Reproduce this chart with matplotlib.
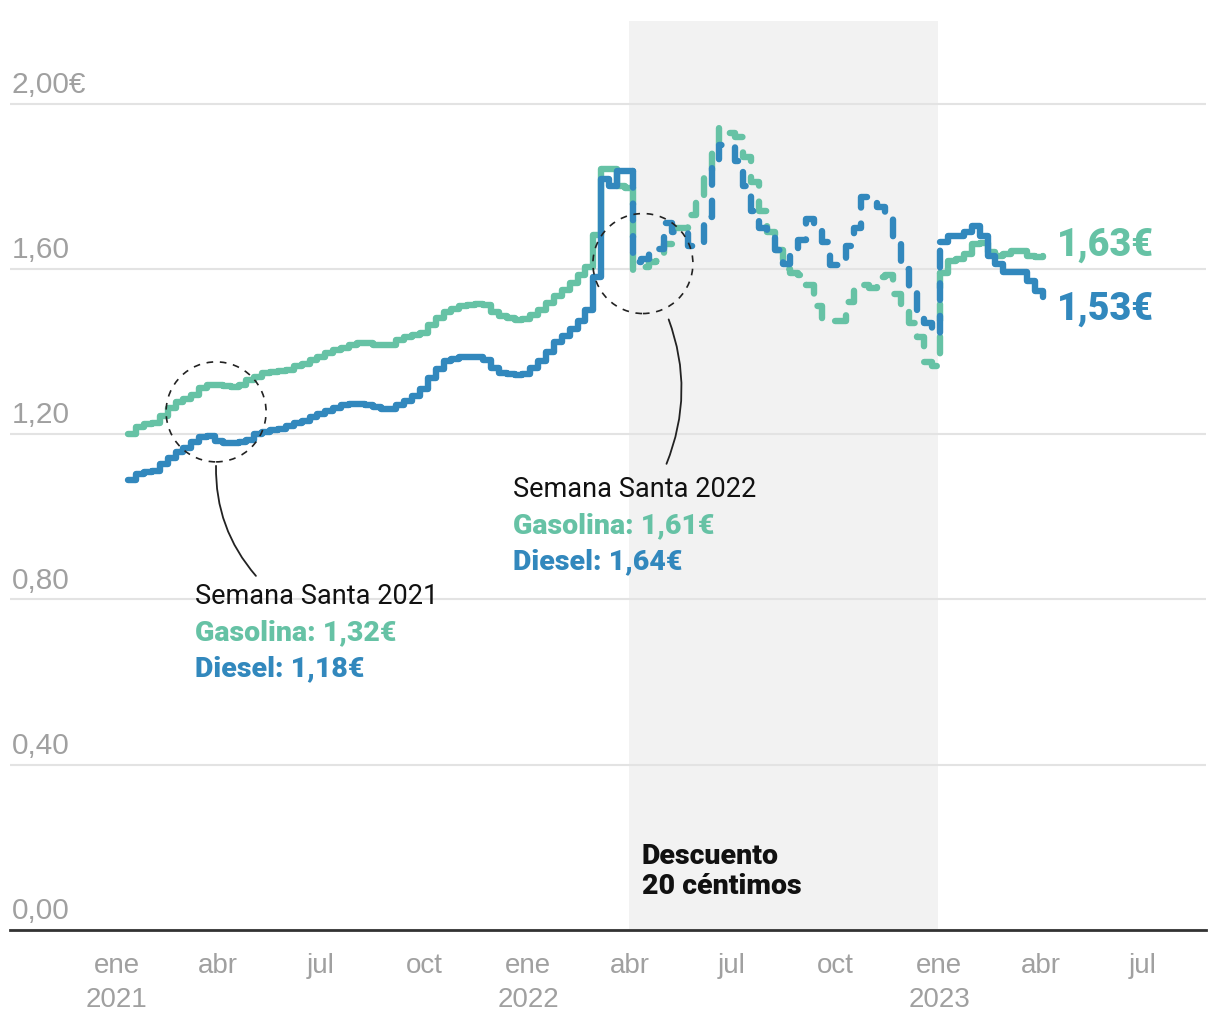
import matplotlib
matplotlib.use("Agg")
import matplotlib.pyplot as plt
import matplotlib.dates as mdates
from matplotlib.patches import Circle
from matplotlib.transforms import ScaledTranslation
import numpy as np
import pandas as pd

# Datos semanales (precio medio en €/litro)
inicio_semanas = "2021-01-11"
gasolina = [
    1.201, 1.218, 1.225, 1.227, 1.245, 1.263, 1.277, 1.286, 1.295, 1.312,
    1.320, 1.318, 1.316, 1.315, 1.320, 1.330, 1.338, 1.348, 1.351, 1.352,
    1.356, 1.364, 1.371, 1.379, 1.388, 1.396, 1.403, 1.409, 1.415, 1.420,
    1.421, 1.417, 1.415, 1.415, 1.428, 1.436, 1.440, 1.446, 1.465, 1.480,
    1.495, 1.503, 1.510, 1.513, 1.514, 1.512, 1.495, 1.485, 1.480, 1.477,
    1.479, 1.488, 1.500, 1.518, 1.535, 1.550, 1.567, 1.585, 1.605, 1.683,
    1.843, 1.843, 1.800, 1.795, 1.598, 1.605, 1.617, 1.620, 1.660, 1.700,
    1.700, 1.730, 1.770, 1.830, 1.890, 1.940, 1.930, 1.920, 1.870, 1.810,
    1.740, 1.690, 1.645, 1.600, 1.590, 1.585, 1.560, 1.510, 1.478, 1.475,
    1.475, 1.520, 1.555, 1.560, 1.555, 1.580, 1.585, 1.540, 1.500, 1.470,
    1.435, 1.375, 1.365, 1.590, 1.620, 1.625, 1.637, 1.660, 1.662, 1.640,
    1.632, 1.635, 1.644, 1.644, 1.632, 1.628, 1.632,
]
diesel = [
    1.088, 1.103, 1.109, 1.112, 1.128, 1.142, 1.157, 1.167, 1.180, 1.192,
    1.196, 1.184, 1.179, 1.179, 1.181, 1.186, 1.200, 1.206, 1.209, 1.212,
    1.219, 1.226, 1.232, 1.241, 1.248, 1.256, 1.264, 1.270, 1.272, 1.273,
    1.270, 1.265, 1.262, 1.262, 1.270, 1.280, 1.293, 1.310, 1.335, 1.358,
    1.376, 1.383, 1.386, 1.387, 1.386, 1.380, 1.360, 1.347, 1.345, 1.344,
    1.346, 1.360, 1.378, 1.400, 1.422, 1.437, 1.455, 1.475, 1.500, 1.580,
    1.818, 1.800, 1.838, 1.838, 1.617, 1.625, 1.649, 1.649, 1.710, 1.690,
    1.690, 1.656, 1.656, 1.725, 1.845, 1.900, 1.900, 1.860, 1.800, 1.740,
    1.700, 1.695, 1.645, 1.612, 1.640, 1.670, 1.720, 1.700, 1.665, 1.610,
    1.612, 1.656, 1.700, 1.775, 1.775, 1.750, 1.720, 1.660, 1.600, 1.545,
    1.500, 1.470, 1.443, 1.666, 1.680, 1.680, 1.690, 1.705, 1.680, 1.632,
    1.613, 1.593, 1.593, 1.593, 1.571, 1.547, 1.533,
]
semanas = pd.date_range(inicio_semanas, periods=len(gasolina), freq="7D")

descuento_ini = pd.Timestamp("2022-04-01")
descuento_fin = pd.Timestamp("2022-12-31")

y_ticks = [0.0, 0.4, 0.8, 1.2, 1.6, 2.0]
y_labels = ["0,00", "0,40", "0,80", "1,20", "1,60", "2,00€"]
x_ticks = ["2021-01-01", "2021-04-01", "2021-07-01", "2021-10-01",
           "2022-01-01", "2022-04-01", "2022-07-01", "2022-10-01",
           "2023-01-01", "2023-04-01", "2023-07-01"]
x_labels = ["ene\n2021", "abr", "jul", "oct", "ene\n2022", "abr", "jul", "oct",
            "ene\n2023", "abr", "jul"]

VERDE = "#66c2a5"
AZUL = "#3288bd"
GRIS = "#a0a0a0"

plt.rcParams["font.family"] = ["Roboto", "DejaVu Sans"]

fig = plt.figure(figsize=(12.2, 10.2), dpi=100)
ax = fig.add_axes([10 / 1220, 89 / 1020, 1196 / 1220, 909 / 1020])

ax.axvspan(descuento_ini, descuento_fin, color="#f2f2f2", zorder=0, lw=0)


def dibujar(valores, color, z):
    valores = list(valores)
    en_desc = (semanas >= descuento_ini) & (semanas <= descuento_fin)
    i0 = int(np.argmax(en_desc))
    i1 = len(en_desc) - int(np.argmax(en_desc[::-1]))
    estilo = dict(color=color, lw=4.6, drawstyle="steps-post", zorder=z,
                  solid_capstyle="round", dash_capstyle="round",
                  solid_joinstyle="round", dash_joinstyle="round")
    # antes del descuento
    ax.plot(semanas[:i0 + 1], valores[:i0] + [valores[i0 - 1]], **estilo)
    # durante el descuento (discontinua)
    ax.plot([semanas[i0]] + list(semanas[i0:i1 + 1]),
            [valores[i0 - 1]] + valores[i0:i1 + 1], dashes=(2.6, 2.5), **estilo)
    # después
    ax.plot(semanas[i1:], valores[i1:], **estilo)


dibujar(gasolina, VERDE, 3)
dibujar(diesel, AZUL, 4)

ax.set_ylim(0, 2.2)
ax.set_xlim(pd.Timestamp("2020-09-28"), pd.Timestamp("2023-08-26"))

# rejilla y etiquetas del eje y
ax.set_yticks(y_ticks)
ax.yaxis.grid(True, color="#e3e3e3", lw=1.5)
ax.set_axisbelow(True)
ax.tick_params(axis="y", length=0, labelleft=False)
for v, t in zip(y_ticks, y_labels):
    ax.annotate(t, xy=(0, v), xycoords=ax.get_yaxis_transform(),
                xytext=(1, 8.5), textcoords="offset points",
                ha="left", va="baseline", fontsize=21.5, color=GRIS,
                family=["Liberation Sans", "DejaVu Sans"])

ax.set_xticks(pd.to_datetime(x_ticks))
ax.set_xticklabels(x_labels, fontsize=20, color=GRIS, linespacing=1.4,
                   family=["Liberation Sans", "DejaVu Sans"])
ax.tick_params(axis="x", length=0, pad=16)

for s in ["left", "right", "top"]:
    ax.spines[s].set_visible(False)
ax.spines["bottom"].set_color("#333333")
ax.spines["bottom"].set_linewidth(2)


# círculos de Semana Santa
def circulo(fecha, valor):
    trans = fig.dpi_scale_trans + ScaledTranslation(
        mdates.date2num(pd.Timestamp(fecha)), valor, ax.transData)
    ax.add_artist(Circle((0, 0), 0.5, transform=trans, fill=False,
                         ls=(0, (4, 4)), lw=1.2, color="#222222", zorder=5))


circulo("2021-03-30", 1.254)
circulo("2022-04-13", 1.613)

ax.annotate("", xy=(pd.Timestamp("2021-05-06"), 0.852),
            xytext=(pd.Timestamp("2021-03-30"), 1.130),
            arrowprops=dict(arrowstyle="-", color="#222222", lw=1.3,
                            connectionstyle="arc3,rad=0.2"))
ax.annotate("", xy=(pd.Timestamp("2022-05-03"), 1.122),
            xytext=(pd.Timestamp("2022-05-05"), 1.484),
            arrowprops=dict(arrowstyle="-", color="#222222", lw=1.3,
                            connectionstyle="arc3,rad=-0.2"))


def bloque(fecha, valor, titulo, gas, die):
    pos = (pd.Timestamp(fecha), valor)
    ax.annotate(titulo, xy=pos, ha="left", va="center", fontsize=19.5,
                color="#111111")
    ax.annotate(gas, xy=pos, xytext=(0, -26), textcoords="offset points",
                ha="left", va="center", fontsize=20.5, color=VERDE,
                fontweight="black")
    ax.annotate(die, xy=pos, xytext=(0, -51.5), textcoords="offset points",
                ha="left", va="center", fontsize=20.5, color=AZUL,
                fontweight="black")


bloque("2021-03-11", 0.809, "Semana Santa 2021", "Gasolina: 1,32€", "Diesel: 1,18€")
bloque("2021-12-19", 1.068, "Semana Santa 2022", "Gasolina: 1,61€", "Diesel: 1,64€")

ax.text(pd.Timestamp("2022-04-12"), 0.143, "Descuento\n20 céntimos",
        ha="left", va="center", fontsize=20.5, fontweight="black",
        color="#111111", linespacing=1.15)

# últimos valores
ax.annotate(f"{gasolina[-1]:.2f}€".replace(".", ","), xy=(semanas[-1], gasolina[-1]),
            xytext=(10, 8.6), textcoords="offset points", ha="left",
            va="center", fontsize=27, fontweight="black", color=VERDE)
ax.annotate(f"{diesel[-1]:.2f}€".replace(".", ","), xy=(semanas[-1], diesel[-1]),
            xytext=(10, -8.6), textcoords="offset points", ha="left",
            va="center", fontsize=27, fontweight="black", color=AZUL)

fig.savefig("out.png", dpi=100)
